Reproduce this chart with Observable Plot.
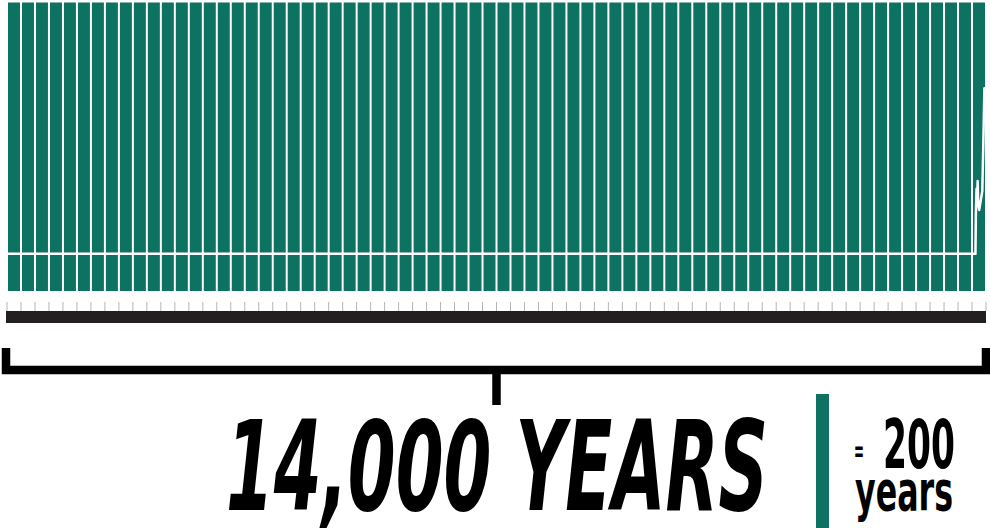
<!DOCTYPE html>
<html>
<head>
<meta charset="utf-8">
<script src="https://cdn.jsdelivr.net/npm/d3@7"></script>
<script src="https://cdn.jsdelivr.net/npm/@observablehq/plot@0.6"></script>
<style>
  html, body { margin: 0; padding: 0; background: #fff; }
  #chart { width: 990px; height: 528px; }
</style>
</head>
<body>
<div id="chart"></div>
<script>
// ---- data ----
const startYear = -11980;      // 14,000 years before 2020
const endYear = 2020;
const binYears = 200;           // each bar = 200 years
const binCount = 70;            // 14,000 / 200

// white line (atmospheric CO2, ppm)
const co2Years = [-11980, 1862, 1868, 1878, 1885, 1893, 1900, 1915, 1960, 1975, 1990];
const co2Ppm   = [280,    280,  312,  332,  318,  338,  322,  315,  330,  370,  412];

const totalLabel = "14,000 YEARS";
const legendValue = "200";
const legendUnit = "years";

// ---- derived tables ----
const bins = d3.range(binCount).map(i => ({start: startYear + i * binYears, end: startYear + (i + 1) * binYears}));
const boundaries = d3.range(binCount + 1).map(i => startYear + i * binYears);
const co2 = co2Years.map((y, i) => ({year: y, ppm: co2Ppm[i]}));

const green = "#0d7261";

const plot = Plot.plot({
  width: 990,
  height: 528,
  marginTop: 2.5,
  marginBottom: 237,
  marginLeft: 7,
  marginRight: 4,
  x: {domain: [startYear, endYear], axis: null},
  y: {domain: [250, 480], axis: null},
  marks: [
    Plot.rect(bins, {x1: "start", x2: "end", fill: green, insetLeft: 1, insetRight: 1}),
    Plot.line(co2, {x: "year", y: "ppm", stroke: "white", strokeWidth: 2.5, curve: "linear"})
  ]
});

document.getElementById("chart").appendChild(plot);

const svg = d3.select(plot);
const x = plot.scale("x").apply;
const x0 = x(startYear), x1 = x(endYear);
const font = "'Liberation Sans Narrow', 'DejaVu Sans Condensed', 'Roboto', sans-serif";

// ticks at bar boundaries
svg.append("g").selectAll("line").data(boundaries).join("line")
  .attr("x1", d => x(d)).attr("x2", d => x(d))
  .attr("y1", 302).attr("y2", 311)
  .attr("stroke", "#b5b5b5").attr("stroke-width", 1);

// timeline bar
svg.append("rect")
  .attr("x", x0 - 1).attr("width", x1 - x0 + 1)
  .attr("y", 311).attr("height", 12)
  .attr("fill", "#231f20");

// bracket
const mid = (x0 + x1) / 2;
svg.append("path")
  .attr("d", `M${x0 - 1},348V370H${x1}V348M${mid},370V405`)
  .attr("fill", "none").attr("stroke", "#000").attr("stroke-width", 8.5)
  .attr("stroke-linejoin", "miter").attr("stroke-linecap", "butt");

const txt = (s) => svg.append("text").text(s)
  .attr("text-anchor", "start").style("text-anchor", "start")
  .style("font-family", font).style("font-weight", "700").attr("fill", "#000");

// big label
txt(totalLabel)
  .attr("x", 226).attr("y", 510)
  .attr("textLength", 542).attr("lengthAdjust", "spacingAndGlyphs")
  .style("font-style", "italic").style("font-size", "124px");

// legend
svg.append("rect")
  .attr("x", 816).attr("y", 394).attr("width", 13).attr("height", 134)
  .attr("fill", green);

txt("=")
  .attr("x", 854).attr("y", 461)
  .attr("textLength", 10).attr("lengthAdjust", "spacingAndGlyphs")
  .style("font-size", "30px");

txt(legendValue)
  .attr("x", 883).attr("y", 468)
  .attr("textLength", 72).attr("lengthAdjust", "spacingAndGlyphs")
  .style("font-size", "68px");

txt(legendUnit)
  .attr("x", 855).attr("y", 510)
  .attr("textLength", 98).attr("lengthAdjust", "spacingAndGlyphs")
  .style("font-size", "56px");
</script>
</body>
</html>
